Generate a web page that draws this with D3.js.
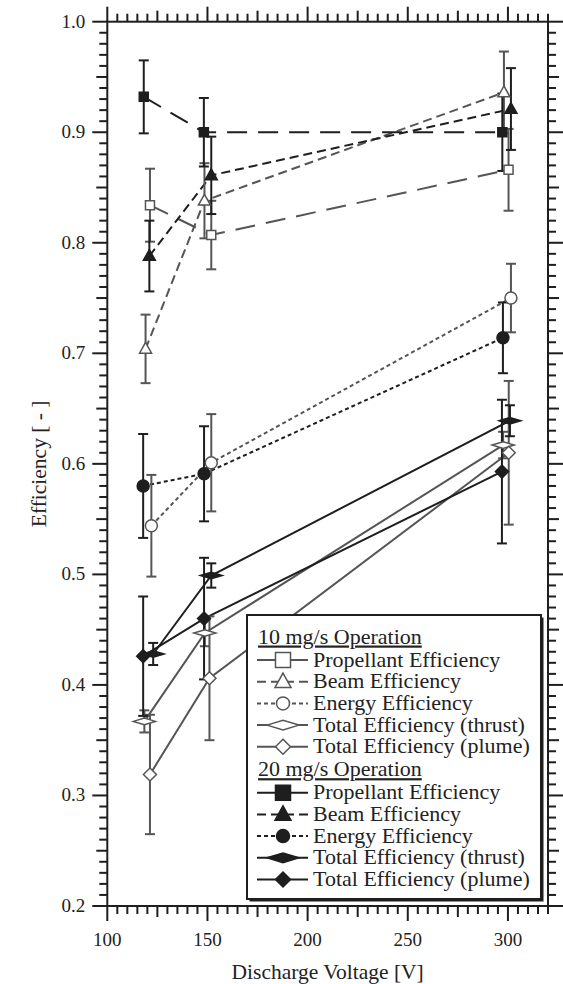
<!DOCTYPE html>
<html>
<head>
<meta charset="utf-8">
<script src="https://cdn.jsdelivr.net/npm/d3@7"></script>
<style>
  body { margin: 0; background: #fff; }
  svg { display: block; }
  text { font-family: "Liberation Serif", "Times New Roman", serif; fill: #222; }
</style>
</head>
<body>
<div id="chart"></div>
<script>
// Discharge voltage [V], efficiency [-] and error bar half-heights
const prop10V = [121.3, 151.9, 300.3];
const prop10Eff = [0.834, 0.807, 0.866];
const prop10Err = [0.033, 0.031, 0.037];

const beam10V = [119.1, 148.5, 298.0];
const beam10Eff = [0.704, 0.838, 0.936];
const beam10Err = [0.031, 0.034, 0.037];

const energy10V = [122.0, 151.9, 301.5];
const energy10Eff = [0.544, 0.601, 0.750];
const energy10Err = [0.046, 0.044, 0.031];

const thrust10V = [118.5, 148.7, 297.6];
const thrust10Eff = [0.367, 0.447, 0.617];
const thrust10Err = [0.010, 0.012, 0.012];

const plume10V = [121.3, 151.0, 300.4];
const plume10Eff = [0.319, 0.406, 0.610];
const plume10Err = [0.054, 0.056, 0.065];

const prop20V = [118.2, 148.2, 297.2];
const prop20Eff = [0.932, 0.900, 0.900];
const prop20Err = [0.033, 0.031, 0.035];

const beam20V = [121.0, 151.9, 301.5];
const beam20Eff = [0.788, 0.861, 0.921];
const beam20Err = [0.032, 0.035, 0.037];

const energy20V = [117.9, 148.3, 297.5];
const energy20Eff = [0.580, 0.591, 0.714];
const energy20Err = [0.047, 0.043, 0.032];

const thrust20V = [122.9, 151.9, 301.0];
const thrust20Eff = [0.428, 0.499, 0.639];
const thrust20Err = [0.010, 0.011, 0.014];

const plume20V = [117.9, 148.3, 297.0];
const plume20Eff = [0.426, 0.460, 0.593];
const plume20Err = [0.054, 0.055, 0.065];

const groupTitles = ["10 mg/s Operation", "20 mg/s Operation"];
const seriesNames = ["Propellant Efficiency", "Beam Efficiency", "Energy Efficiency",
                     "Total Efficiency (thrust)", "Total Efficiency (plume)"];
const xTickLabels = [100, 150, 200, 250, 300];
const yTickLabels = [0.2, 0.3, 0.4, 0.5, 0.6, 0.7, 0.8, 0.9, 1.0];

const width = 563, height = 984;
const plotLeft = 107.3, plotRight = 548, plotTop = 21.7, plotBottom = 906;

const gray = "#555", black = "#1e1e1e";

function pack(v, e, err) {
  return v.map((d, i) => ({ v: d, e: e[i], err: err[i] }));
}

// style per metric: dash pattern + marker
const kinds = [
  { dash: "20,11", shape: "square" },
  { dash: "9,5", shape: "triangle" },
  { dash: "4,3", shape: "circle" },
  { dash: null, shape: "wide" },
  { dash: null, shape: "diamond" }
];

const series = [
  { group: 0, kind: 0, pts: pack(prop10V, prop10Eff, prop10Err) },
  { group: 0, kind: 1, pts: pack(beam10V, beam10Eff, beam10Err) },
  { group: 0, kind: 2, pts: pack(energy10V, energy10Eff, energy10Err) },
  { group: 0, kind: 3, pts: pack(thrust10V, thrust10Eff, thrust10Err) },
  { group: 0, kind: 4, pts: pack(plume10V, plume10Eff, plume10Err) },
  { group: 1, kind: 0, pts: pack(prop20V, prop20Eff, prop20Err) },
  { group: 1, kind: 1, pts: pack(beam20V, beam20Eff, beam20Err) },
  { group: 1, kind: 2, pts: pack(energy20V, energy20Eff, energy20Err) },
  { group: 1, kind: 3, pts: pack(thrust20V, thrust20Eff, thrust20Err) },
  { group: 1, kind: 4, pts: pack(plume20V, plume20Eff, plume20Err) }
];

const x = d3.scaleLinear().domain([100, 320]).range([plotLeft, plotRight]);
const y = d3.scaleLinear().domain([0.2, 1.0]).range([plotBottom, plotTop]);

const svg = d3.select("#chart").append("svg")
  .attr("width", width)
  .attr("height", height);

// marker path builder
function markerPath(shape, s) {
  if (shape === "square") return d3.symbol(d3.symbolSquare, s * s)();
  if (shape === "circle") return d3.symbol(d3.symbolCircle, Math.PI * (s / 2) * (s / 2))();
  if (shape === "triangle") {
    const h = s * 0.9, w = s / 2;
    return `M0,${-h * 0.6}L${w},${h * 0.4}L${-w},${h * 0.4}Z`;
  }
  if (shape === "diamond") {
    const r = s / 2;
    return `M0,${-r}L${r},0L0,${r}L${-r},0Z`;
  }
  // wide, flat diamond
  const w = s, h = s * 0.3;
  return `M${-w},0L0,${-h}L${w},0L0,${h}Z`;
}

const plotSizes = { square: 9, triangle: 12, circle: 12, diamond: 13, wide: 11 };
const legendSizes = { square: 15, triangle: 16, circle: 13, diamond: 15, wide: 16 };

const line = d3.line().x(d => x(d.v)).y(d => y(d.e));

// axis ticks, outward on all four sides
function tickLen(v, major, medium) {
  if (Math.abs(v / major - Math.round(v / major)) < 1e-6) return 15;
  if (Math.abs(v / medium - Math.round(v / medium)) < 1e-6) return 11;
  return 8;
}

const xTicks = d3.range(100, 320.01, 5);
const yTicks = d3.range(20, 100.01, 1).map(d => d / 100);

const axes = svg.append("g").attr("stroke", black).attr("stroke-width", 2);
axes.selectAll(".xb").data(xTicks).join("line")
  .attr("x1", d => x(d)).attr("x2", d => x(d))
  .attr("y1", plotBottom).attr("y2", d => plotBottom + tickLen(d, 50, 25));
axes.selectAll(".xt").data(xTicks).join("line")
  .attr("x1", d => x(d)).attr("x2", d => x(d))
  .attr("y1", plotTop).attr("y2", d => plotTop - tickLen(d, 50, 25));
axes.selectAll(".yl").data(yTicks).join("line")
  .attr("y1", d => y(d)).attr("y2", d => y(d))
  .attr("x1", plotLeft).attr("x2", d => plotLeft - tickLen(Math.round(d * 100), 10, 5));
axes.selectAll(".yr").data(yTicks).join("line")
  .attr("y1", d => y(d)).attr("y2", d => y(d))
  .attr("x1", plotRight).attr("x2", d => plotRight + tickLen(Math.round(d * 100), 10, 5));

svg.append("rect")
  .attr("x", plotLeft).attr("y", plotTop)
  .attr("width", plotRight - plotLeft).attr("height", plotBottom - plotTop)
  .attr("fill", "none").attr("stroke", black).attr("stroke-width", 2);

// tick labels
svg.append("g").selectAll("text").data(xTickLabels).join("text")
  .attr("x", d => x(d)).attr("y", plotBottom + 40)
  .attr("text-anchor", "middle").style("font-size", "19px")
  .text(d => d);

svg.append("g").selectAll("text").data(yTickLabels).join("text")
  .attr("x", plotLeft - 22).attr("y", d => y(d) + 6)
  .attr("text-anchor", "end").style("font-size", "19px")
  .text(d => d.toFixed(1));

// axis titles
svg.append("text")
  .attr("x", (plotLeft + plotRight) / 2).attr("y", 979)
  .attr("text-anchor", "middle").style("font-size", "21.5px")
  .text("Discharge Voltage [V]");

svg.append("text")
  .attr("transform", `translate(46,${(plotTop + plotBottom) / 2}) rotate(-90)`)
  .attr("text-anchor", "middle").style("font-size", "21.5px")
  .text("Efficiency [ - ]");

// lines
const plot = svg.append("g");
series.forEach(s => {
  const k = kinds[s.kind];
  plot.append("path")
    .datum(s.pts)
    .attr("d", line)
    .attr("fill", "none")
    .attr("stroke", s.group === 0 ? gray : black)
    .attr("stroke-width", 2)
    .attr("stroke-dasharray", k.dash);
});

// error bars
series.forEach(s => {
  const col = s.group === 0 ? gray : black;
  const g = plot.append("g").attr("stroke", col).attr("stroke-width", 2);
  s.pts.forEach(p => {
    const cx = x(p.v);
    g.append("line").attr("x1", cx).attr("x2", cx)
      .attr("y1", y(p.e - p.err)).attr("y2", y(p.e + p.err));
    [p.e - p.err, p.e + p.err].forEach(v => {
      g.append("line").attr("x1", cx - 5).attr("x2", cx + 5)
        .attr("y1", y(v)).attr("y2", y(v));
    });
  });
});

// markers
series.forEach(s => {
  const k = kinds[s.kind];
  const open = s.group === 0;
  plot.append("g").selectAll("path").data(s.pts).join("path")
    .attr("transform", d => `translate(${x(d.v)},${y(d.e)})`)
    .attr("d", markerPath(k.shape, plotSizes[k.shape]))
    .attr("fill", open ? "#fff" : black)
    .attr("stroke", open ? gray : black)
    .attr("stroke-width", 1.5);
});

// legend
const lx = 247, ly = 615, lw = 294, lh = 284;
const legend = svg.append("g");
legend.append("rect")
  .attr("x", lx + 2.5).attr("y", ly + 2.5).attr("width", lw).attr("height", lh)
  .attr("fill", black);
legend.append("rect")
  .attr("x", lx).attr("y", ly).attr("width", lw).attr("height", lh)
  .attr("fill", "#fff").attr("stroke", black).attr("stroke-width", 2);

const rowH = 21.7;
groupTitles.forEach((title, gi) => {
  const headY = ly + 22 + gi * (6 * rowH + 2.5);
  legend.append("text")
    .attr("x", lx + 11).attr("y", headY + 6.5)
    .style("font-size", "22px")
    .style("text-decoration", "underline")
    .text(title);
  seriesNames.forEach((name, ki) => {
    const k = kinds[ki];
    const open = gi === 0;
    const col = open ? gray : black;
    const rowY = headY + 23 + ki * rowH;
    const row = legend.append("g").attr("transform", `translate(0,${rowY})`);
    row.append("line")
      .attr("x1", lx + 10).attr("x2", lx + 61)
      .attr("stroke", col).attr("stroke-width", 2)
      .attr("stroke-dasharray", k.dash);
    row.append("path")
      .attr("transform", `translate(${lx + 36},0)`)
      .attr("d", markerPath(k.shape, legendSizes[k.shape]))
      .attr("fill", open ? "#fff" : black)
      .attr("stroke", col).attr("stroke-width", 1.5);
    row.append("text")
      .attr("x", lx + 66).attr("y", 6.5)
      .style("font-size", "22px")
      .text(name);
  });
});
</script>
</body>
</html>
